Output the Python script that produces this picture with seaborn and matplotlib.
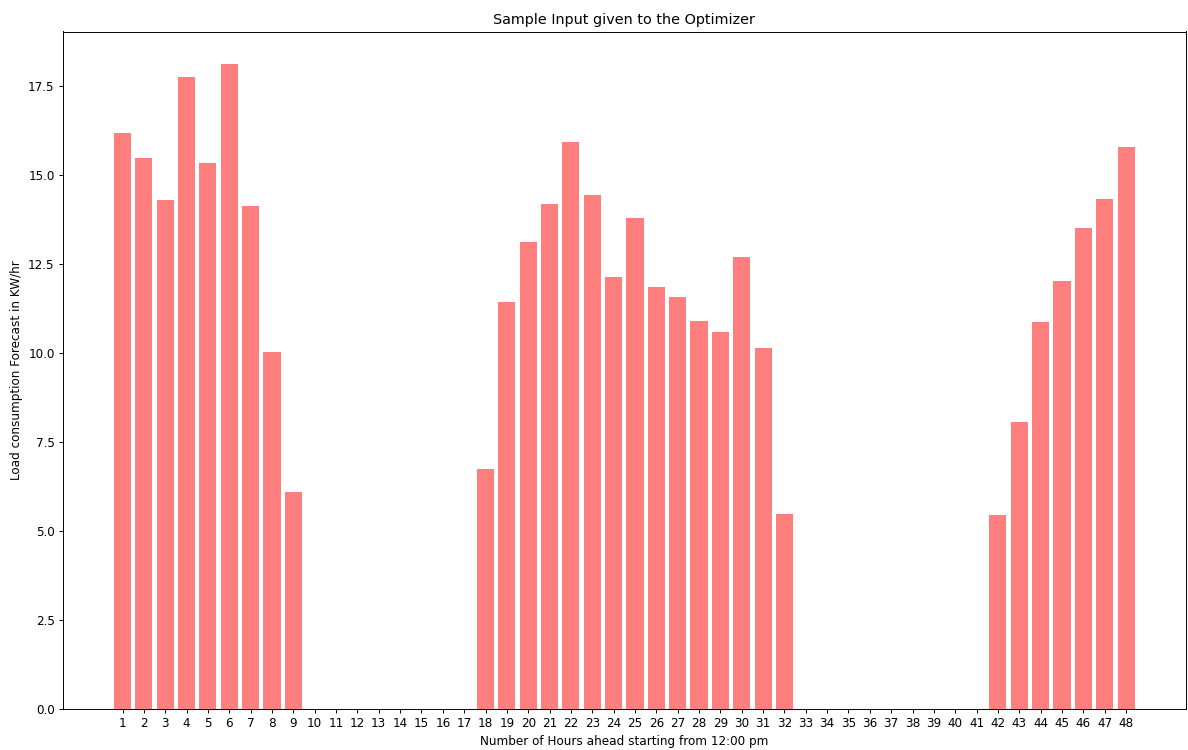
import matplotlib
matplotlib.use("Agg")
import matplotlib.pyplot as plt
import seaborn as sns
import pandas as pd
import numpy as np

# data
hours = list(range(1, 49))
load = [16.19, 15.47, 14.30, 17.77, 15.33, 18.13, 14.12, 10.02, 6.09,
        0, 0, 0, 0, 0, 0, 0, 0,
        6.75, 11.44, 13.13, 14.19, 15.93, 14.43, 12.14, 13.80, 11.85, 11.57,
        10.90, 10.59, 12.70, 10.15, 5.47,
        0, 0, 0, 0, 0, 0, 0, 0, 0,
        5.45, 8.07, 10.87, 12.01, 13.51, 14.32, 15.80]

df = pd.DataFrame({'hour': hours, 'load': load})

#
dpi = 86.4
f, ax = plt.subplots(figsize=(1188 / dpi, 750 / dpi), dpi=dpi)
plt.subplots_adjust(left=0.053, bottom=0.055, right=0.998, top=0.958)

sns.barplot(data=df, x='hour', y='load', order=hours, color='red',
            saturation=1, alpha=0.5, width=0.8, ax=ax, errorbar=None)

# same x margins as a plain plt.bar call
span = (len(hours) - 1) + 0.8
pad = 0.05 * span
ax.set_xlim(-0.4 - pad, len(hours) - 1 + 0.4 + pad)
ax.set_ylim(0, max(load) * 1.05)
ax.set_yticks(np.arange(0, 18, 2.5))
ax.set_yticklabels(['%.1f' % v for v in np.arange(0, 18, 2.5)])

ax.set_title('Sample Input given to the Optimizer')
ax.set_xlabel('Number of Hours ahead starting from 12:00 pm')
ax.set_ylabel('Load consumption Forecast in KW/hr')

plt.savefig('out.png', dpi=dpi)
